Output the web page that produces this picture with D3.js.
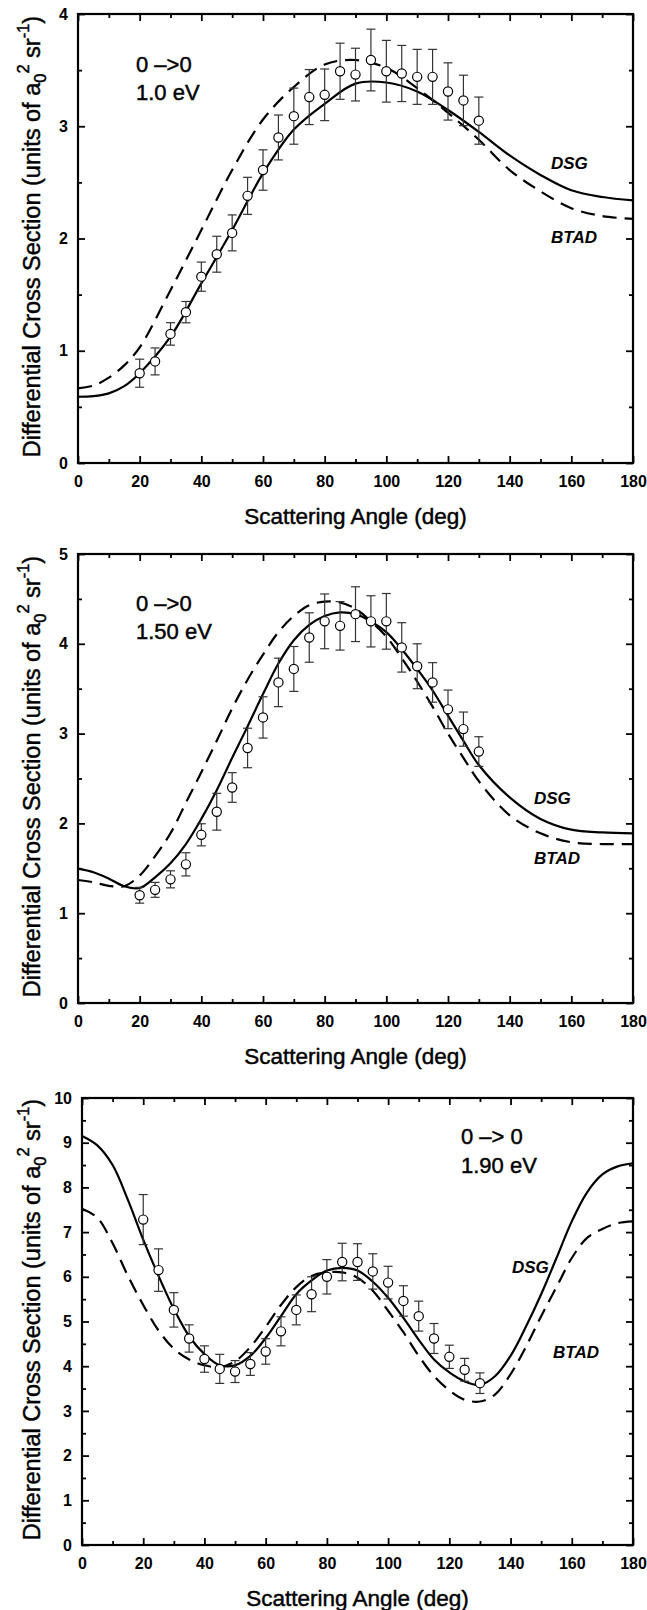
<!DOCTYPE html>
<html>
<head>
<meta charset="utf-8">
<script src="https://cdn.jsdelivr.net/npm/d3@7"></script>
<style>
  html, body { margin: 0; padding: 0; background: #fff; }
  svg { display: block; font-family: "Liberation Sans", Arial, Helvetica, sans-serif; }
</style>
</head>
<body>
<svg id="fig" width="647" height="1610"></svg>
<script>
// ---- measured angles (deg) ----
const measAngles = [20, 25, 30, 35, 40, 45, 50, 55, 60, 65, 70, 75, 80, 85, 90, 95, 100, 105, 110, 115, 120, 125, 130];

// ---- 1.0 eV ----
const meas1 = [0.80, 0.905, 1.15, 1.344, 1.66, 1.86, 2.05, 2.38, 2.61, 2.90, 3.09, 3.26, 3.28, 3.49, 3.46, 3.59, 3.49, 3.47, 3.44, 3.44, 3.31, 3.23, 3.05];
const err1  = [0.125, 0.12, 0.10, 0.095, 0.13, 0.16, 0.16, 0.165, 0.18, 0.20, 0.25, 0.245, 0.23, 0.25, 0.235, 0.275, 0.275, 0.25, 0.245, 0.245, 0.255, 0.225, 0.21];
const theoryAngles1 = [0, 5, 10, 15, 20, 30, 40, 50, 60, 70, 80, 90, 100, 110, 120, 130, 140, 150, 160, 170, 180];
const dsg1  = [0.59, 0.595, 0.62, 0.685, 0.80, 1.125, 1.60, 2.075, 2.58, 2.97, 3.20, 3.38, 3.39, 3.31, 3.145, 2.95, 2.74, 2.566, 2.43, 2.37, 2.34];
const btad1 = [0.665, 0.69, 0.76, 0.87, 1.03, 1.54, 2.075, 2.61, 3.06, 3.35, 3.55, 3.59, 3.52, 3.34, 3.12, 2.88, 2.61, 2.42, 2.27, 2.20, 2.175];

// ---- 1.50 eV ----
const meas2 = [1.20, 1.26, 1.377, 1.544, 1.873, 2.13, 2.40, 2.84, 3.18, 3.57, 3.72, 4.07, 4.25, 4.20, 4.33, 4.25, 4.25, 3.96, 3.75, 3.57, 3.27, 3.05, 2.80];
const err2  = [0.088, 0.083, 0.095, 0.129, 0.123, 0.205, 0.165, 0.22, 0.23, 0.27, 0.25, 0.275, 0.305, 0.27, 0.305, 0.285, 0.31, 0.275, 0.25, 0.22, 0.215, 0.19, 0.165];
const theoryAngles2 = [0, 5, 10, 15, 20, 25, 30, 35, 40, 45, 50, 55, 60, 65, 70, 75, 80, 85, 90, 95, 100, 105, 110, 115, 120, 125, 130, 140, 150, 160, 170, 180];
const dsg2  = [1.496, 1.456, 1.385, 1.30, 1.28, 1.40, 1.556, 1.77, 2.05, 2.37, 2.73, 3.08, 3.44, 3.78, 4.04, 4.21, 4.31, 4.35, 4.33, 4.25, 4.13, 3.94, 3.72, 3.48, 3.20, 2.92, 2.65, 2.29, 2.05, 1.93, 1.90, 1.89];
const btad2 = [1.37, 1.345, 1.305, 1.30, 1.42, 1.635, 1.89, 2.23, 2.57, 2.92, 3.28, 3.60, 3.88, 4.13, 4.31, 4.43, 4.47, 4.46, 4.39, 4.25, 4.08, 3.84, 3.58, 3.30, 3.00, 2.73, 2.47, 2.09, 1.89, 1.79, 1.77, 1.77];

// ---- 1.90 eV ----
const meas3 = [7.28, 6.15, 5.26, 4.62, 4.16, 3.94, 3.88, 4.05, 4.33, 4.78, 5.26, 5.61, 6.00, 6.33, 6.33, 6.12, 5.87, 5.46, 5.12, 4.62, 4.21, 3.92, 3.62];
const err3  = [0.56, 0.475, 0.385, 0.305, 0.295, 0.325, 0.245, 0.255, 0.285, 0.325, 0.335, 0.39, 0.385, 0.42, 0.41, 0.395, 0.365, 0.34, 0.335, 0.335, 0.26, 0.255, 0.23];
const theoryAngles3 = [0, 5, 10, 15, 20, 25, 30, 35, 40, 45, 50, 55, 60, 65, 70, 75, 80, 85, 90, 95, 100, 105, 110, 115, 120, 125, 130, 135, 140, 145, 150, 155, 160, 165, 170, 175, 180];
const dsg3  = [9.15, 8.94, 8.50, 7.72, 6.83, 6.02, 5.28, 4.67, 4.27, 4.02, 4.02, 4.23, 4.63, 5.12, 5.61, 5.92, 6.14, 6.20, 6.14, 5.89, 5.53, 5.08, 4.59, 4.15, 3.86, 3.66, 3.58, 3.78, 4.23, 4.88, 5.61, 6.42, 7.24, 7.89, 8.29, 8.47, 8.54];
const btad3 = [7.52, 7.32, 6.75, 6.02, 5.37, 4.80, 4.39, 4.15, 4.02, 3.98, 4.11, 4.43, 4.88, 5.37, 5.77, 6.02, 6.10, 6.10, 5.98, 5.69, 5.24, 4.76, 4.23, 3.78, 3.46, 3.25, 3.21, 3.37, 3.82, 4.43, 5.12, 5.77, 6.42, 6.87, 7.07, 7.20, 7.24];

// ---- axis ticks ----
const xMajorTicks = [0, 20, 40, 60, 80, 100, 120, 140, 160, 180];
const xMinorTicks = [10, 30, 50, 70, 90, 110, 130, 150, 170];
const yMajorTicks1 = [0, 1, 2, 3, 4];
const yMajorTicks2 = [0, 1, 2, 3, 4, 5];
const yMajorTicks3 = [0, 1, 2, 3, 4, 5, 6, 7, 8, 9, 10];

const xTitle = "Scattering Angle (deg)";
const transition = ["0 \u2013>0", "0 \u2013>0", "0 \u2013> 0"];
const energies = ["1.0 eV", "1.50 eV", "1.90 eV"];

const panels = [
  { box: { l: 78, r: 633, t: 14,   b: 463 },  yMax: 4,  yTicks: yMajorTicks1,
    meas: meas1, err: err1, thA: theoryAngles1, dsg: dsg1, btad: btad1,
    note: { x: 136, y1: 72, y2: 100 }, dsgLab: [551, 169], btadLab: [551, 243] },
  { box: { l: 78, r: 633, t: 554,  b: 1003 }, yMax: 5,  yTicks: yMajorTicks2,
    meas: meas2, err: err2, thA: theoryAngles2, dsg: dsg2, btad: btad2,
    note: { x: 136, y1: 611, y2: 639 }, dsgLab: [534, 804], btadLab: [534, 864] },
  { box: { l: 82, r: 633, t: 1098, b: 1545 }, yMax: 10, yTicks: yMajorTicks3,
    meas: meas3, err: err3, thA: theoryAngles3, dsg: dsg3, btad: btad3,
    note: { x: 461, y1: 1144, y2: 1173 }, dsgLab: [512, 1273], btadLab: [553, 1358] }
];

const svg = d3.select("#fig");

// slightly heavier rendering of the regular-weight labels
const heavy = sel => sel.attr("fill", "#000").attr("stroke", "#000").attr("stroke-width", 0.45);

panels.forEach((p, i) => {
  const { l, r, t, b } = p.box;
  const x = d3.scaleLinear().domain([0, 180]).range([l, r]);
  const y = d3.scaleLinear().domain([0, p.yMax]).range([b, t]);
  const yMinor = d3.range(0.5, p.yMax, 1);

  const g = svg.append("g");

  // tick marks on all four sides, pointing inward
  const tickStyle = sel => {
    sel.select(".domain").remove();
    sel.selectAll(".tick line").attr("stroke", "#000").attr("stroke-width", 1.8);
  };
  const labelStyle = s => s.selectAll("text").attr("font-size", 16).attr("font-weight", "bold")
      .attr("fill", "#000").attr("font-family", "Liberation Sans, Arial, sans-serif");

  g.append("g").attr("transform", `translate(0,${b})`)
    .call(d3.axisBottom(x).tickValues(xMajorTicks).tickSize(-7).tickPadding(13).tickFormat(d3.format("d")))
    .call(tickStyle).call(labelStyle);
  g.append("g").attr("transform", `translate(0,${b})`)
    .call(d3.axisBottom(x).tickValues(xMinorTicks).tickSize(-4).tickFormat(""))
    .call(tickStyle);
  g.append("g").attr("transform", `translate(0,${t})`)
    .call(d3.axisTop(x).tickValues(xMajorTicks).tickSize(-7).tickFormat(""))
    .call(tickStyle);
  g.append("g").attr("transform", `translate(0,${t})`)
    .call(d3.axisTop(x).tickValues(xMinorTicks).tickSize(-4).tickFormat(""))
    .call(tickStyle);
  g.append("g").attr("transform", `translate(${l},0)`)
    .call(d3.axisLeft(y).tickValues(p.yTicks).tickSize(-7).tickPadding(10).tickFormat(d3.format("d")))
    .call(tickStyle).call(labelStyle);
  g.append("g").attr("transform", `translate(${l},0)`)
    .call(d3.axisLeft(y).tickValues(yMinor).tickSize(-4).tickFormat(""))
    .call(tickStyle);
  g.append("g").attr("transform", `translate(${r},0)`)
    .call(d3.axisRight(y).tickValues(p.yTicks).tickSize(-7).tickFormat(""))
    .call(tickStyle);
  g.append("g").attr("transform", `translate(${r},0)`)
    .call(d3.axisRight(y).tickValues(yMinor).tickSize(-4).tickFormat(""))
    .call(tickStyle);

  // frame
  g.append("rect").attr("x", l).attr("y", t).attr("width", r - l).attr("height", b - t)
    .attr("fill", "none").attr("stroke", "#000").attr("stroke-width", 2.2);

  // theory curves
  const line = d3.line().x(d => x(d[0])).y(d => y(d[1])).curve(d3.curveCatmullRom.alpha(0.5));
  g.append("path").datum(p.thA.map((a, k) => [a, p.btad[k]]))
    .attr("d", line).attr("fill", "none").attr("stroke", "#000")
    .attr("stroke-width", 2.2).attr("stroke-dasharray", "14,8");
  g.append("path").datum(p.thA.map((a, k) => [a, p.dsg[k]]))
    .attr("d", line).attr("fill", "none").attr("stroke", "#000").attr("stroke-width", 2.2);

  // measurements with error bars
  const pts = measAngles.map((a, k) => ({ a, v: p.meas[k], e: p.err[k] }));
  const eb = g.append("g").attr("stroke", "#333").attr("stroke-width", 1.2);
  pts.forEach(d => {
    const cx = x(d.a), y0 = y(d.v - d.e), y1 = y(d.v + d.e);
    eb.append("line").attr("x1", cx).attr("x2", cx).attr("y1", y0).attr("y2", y1);
    eb.append("line").attr("x1", cx - 4.5).attr("x2", cx + 4.5).attr("y1", y0).attr("y2", y0);
    eb.append("line").attr("x1", cx - 4.5).attr("x2", cx + 4.5).attr("y1", y1).attr("y2", y1);
  });
  g.append("g").selectAll("circle").data(pts).join("circle")
    .attr("cx", d => x(d.a)).attr("cy", d => y(d.v)).attr("r", 4.6)
    .attr("fill", "#fff").attr("stroke", "#000").attr("stroke-width", 1.2);

  // annotations
  g.append("text").attr("x", p.note.x).attr("y", p.note.y1).attr("font-size", 22)
    .call(heavy).text(transition[i]);
  g.append("text").attr("x", p.note.x).attr("y", p.note.y2).attr("font-size", 22)
    .call(heavy).text(energies[i]);
  g.append("text").attr("x", p.dsgLab[0]).attr("y", p.dsgLab[1]).attr("font-size", 17)
    .attr("font-weight", "bold").attr("font-style", "italic").text("DSG");
  g.append("text").attr("x", p.btadLab[0]).attr("y", p.btadLab[1]).attr("font-size", 17)
    .attr("font-weight", "bold").attr("font-style", "italic").text("BTAD");

  // axis titles
  g.append("text").attr("x", (l + r) / 2).attr("y", b + 61).attr("text-anchor", "middle")
    .attr("font-size", 22.5).call(heavy).text(xTitle);
  const yt = g.append("text")
    .attr("transform", `translate(40,${(t + b) / 2 - 2}) rotate(-90)`)
    .attr("text-anchor", "middle").attr("font-size", 23.5).call(heavy);
  yt.append("tspan").text("Differential Cross Section (units of a");
  yt.append("tspan").attr("font-size", 16.5).attr("dy", 6).text("0");
  yt.append("tspan").attr("font-size", 16.5).attr("dy", -17).text("2");
  yt.append("tspan").attr("dy", 11).text(" sr");
  yt.append("tspan").attr("font-size", 16.5).attr("dy", -11).text("-1");
  yt.append("tspan").attr("dy", 11).text(")");
});
</script>
</body>
</html>
